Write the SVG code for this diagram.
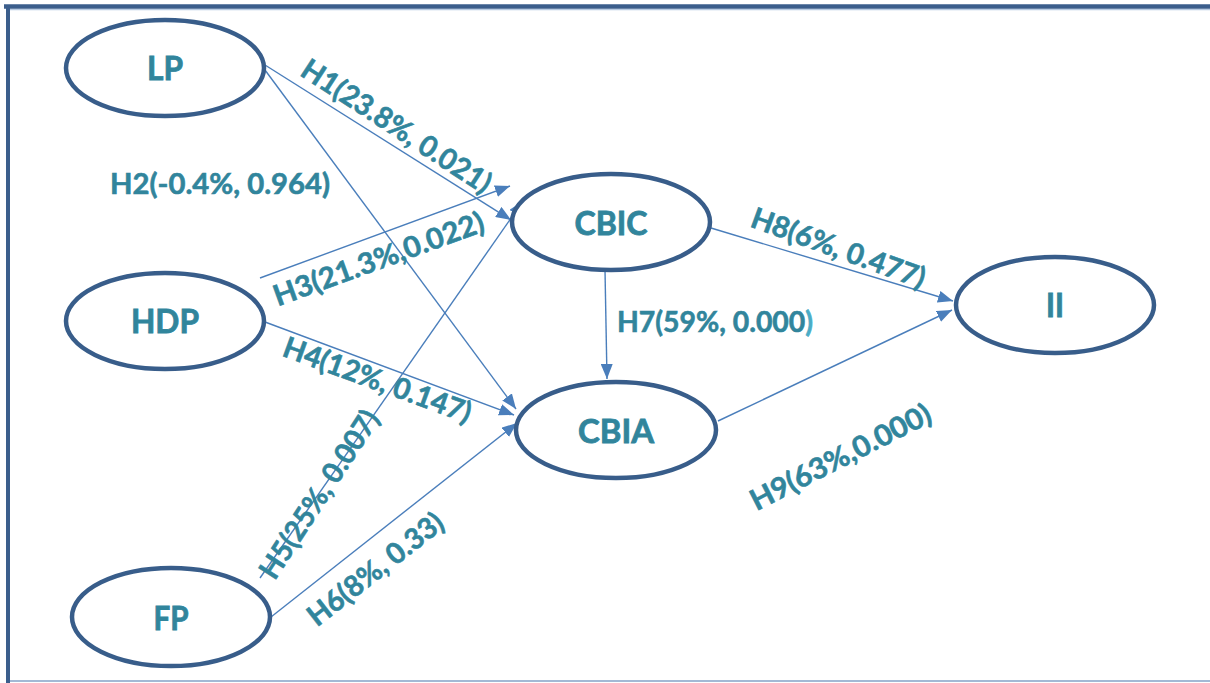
<svg xmlns="http://www.w3.org/2000/svg" width="1210" height="683" viewBox="0 0 1210 683">
<style>
.node{fill:#fff;stroke:#385d8a;stroke-width:4.5}
.nl{font-family:Lato,"Liberation Sans",sans-serif;font-weight:bold;font-size:32.5px;fill:#31859c;stroke:#31859c;stroke-width:0.8;text-anchor:middle}
.el{font-family:Lato,"Liberation Sans",sans-serif;font-weight:bold;font-size:29px;fill:#31859c;stroke:#31859c;stroke-width:0.6;text-anchor:middle}
.edge{stroke:#4a7ebb;stroke-width:1.4;fill:none;marker-end:url(#arr)}
</style>
<defs>
<marker id="arr" markerUnits="userSpaceOnUse" markerWidth="16" markerHeight="12" refX="15" refY="6" orient="auto">
<path d="M0,0 L15,6 L0,12 Z" fill="#4a7ebb"/>
</marker>
</defs>
<rect width="1210" height="683" fill="#fff"/>
<g id="frame">
<line x1="6" y1="681" x2="1210" y2="681" stroke="#a3b9d5" stroke-width="2"/>
<line x1="6" y1="9.5" x2="1210" y2="9.5" stroke="#b8cbe2" stroke-width="1.5"/>
<line x1="4" y1="6.5" x2="1210" y2="6.5" stroke="#3b5e8c" stroke-width="4.5"/>
<line x1="8" y1="5" x2="8" y2="683" stroke="#3b5e8c" stroke-width="4"/>
</g>
<g id="connectors">
<line class="edge" x1="265" y1="65" x2="511" y2="220"/>
<line class="edge" x1="265" y1="70" x2="516" y2="409"/>
<line class="edge" x1="260" y1="278" x2="510" y2="186"/>
<line class="edge" x1="265" y1="322" x2="514" y2="415"/>
<line class="edge" x1="260" y1="578" x2="523" y2="201"/>
<line class="edge" x1="271" y1="617" x2="517" y2="423"/>
<line class="edge" x1="605" y1="270" x2="607" y2="379"/>
<line class="edge" x1="711" y1="228" x2="953" y2="301"/>
<line class="edge" x1="718" y1="421" x2="952" y2="310"/>
</g>
<g id="LP"><ellipse class="node" cx="165" cy="68" rx="99" ry="48"/><text class="nl" x="165" y="80" textLength="36" lengthAdjust="spacingAndGlyphs">LP</text></g>
<g id="HDP"><ellipse class="node" cx="165" cy="321" rx="99" ry="48"/><text class="nl" x="165" y="333" textLength="68" lengthAdjust="spacingAndGlyphs">HDP</text></g>
<g id="FP"><ellipse class="node" cx="171" cy="617" rx="99" ry="49"/><text class="nl" x="171" y="630" textLength="35" lengthAdjust="spacingAndGlyphs">FP</text></g>
<g id="CBIC"><ellipse class="node" cx="611" cy="222" rx="99" ry="48"/><text class="nl" x="611" y="235" textLength="73" lengthAdjust="spacingAndGlyphs">CBIC</text></g>
<g id="CBIA"><ellipse class="node" cx="616" cy="430" rx="100" ry="48"/><text class="nl" x="616" y="443" textLength="76" lengthAdjust="spacingAndGlyphs">CBIA</text></g>
<g id="II"><ellipse class="node" cx="1055" cy="305" rx="99" ry="48"/><text class="nl" x="1055" y="317" textLength="18" lengthAdjust="spacingAndGlyphs">II</text></g>
<g id="labels">
<text class="el" transform="translate(396,127) rotate(33)" x="0" y="9" textLength="220" lengthAdjust="spacingAndGlyphs">H1(23.8%, 0.021)</text>
<text class="el" x="220" y="194" textLength="220" lengthAdjust="spacingAndGlyphs">H2(-0.4%, 0.964)</text>
<text class="el" transform="translate(379,260) rotate(-20)" x="0" y="9" textLength="222" lengthAdjust="spacingAndGlyphs">H3(21.3%,0.022)</text>
<text class="el" transform="translate(377,381) rotate(20)" x="0" y="9" textLength="198" lengthAdjust="spacingAndGlyphs">H4(12%, 0.147)</text>
<text class="el" transform="translate(320,495) rotate(-57)" x="0" y="9" textLength="194" lengthAdjust="spacingAndGlyphs">H5(25%, 0.007)</text>
<text class="el" transform="translate(376,570) rotate(-38)" x="0" y="9" textLength="164" lengthAdjust="spacingAndGlyphs">H6(8%, 0.33)</text>
<text class="el" x="715" y="332" textLength="196" lengthAdjust="spacingAndGlyphs">H7(59%, 0.000<tspan fill="#4bacc6" stroke="#4bacc6">)</tspan></text>
<text class="el" transform="translate(838,249) rotate(20)" x="0" y="9" textLength="183" lengthAdjust="spacingAndGlyphs">H8(6%, 0.477)</text>
<text class="el" transform="translate(841,458) rotate(-27)" x="0" y="9" textLength="199" lengthAdjust="spacingAndGlyphs">H9(63%,0.000)</text>
</g>
</svg>
